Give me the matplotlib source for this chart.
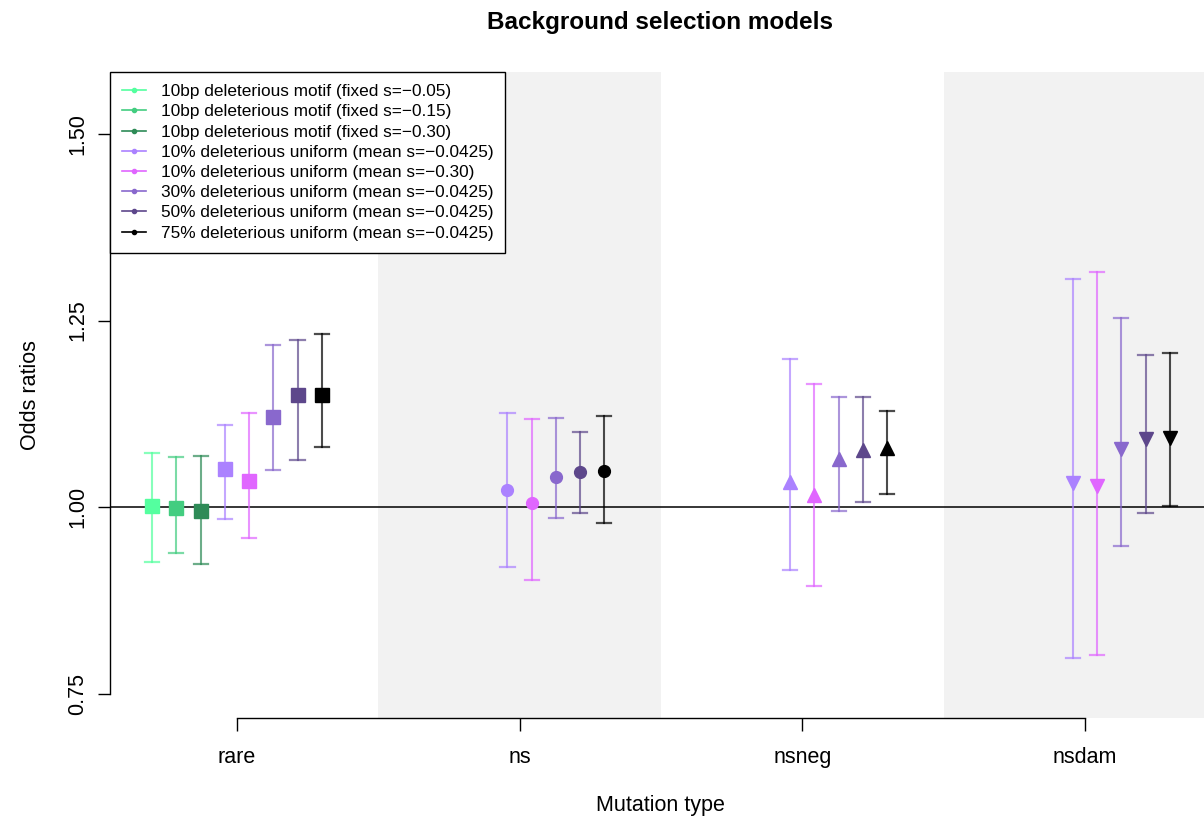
import matplotlib
matplotlib.use("Agg")
import matplotlib.pyplot as plt
from matplotlib.lines import Line2D
import numpy as np

plt.rcParams['font.family'] = ['Liberation Sans', 'DejaVu Sans']

categories = ["rare", "ns", "nsneg", "nsdam"]
series_labels = [
    "10bp deleterious motif (fixed s=\u22120.05)",
    "10bp deleterious motif (fixed s=\u22120.15)",
    "10bp deleterious motif (fixed s=\u22120.30)",
    "10% deleterious uniform (mean s=\u22120.0425)",
    "10% deleterious uniform (mean s=\u22120.30)",
    "30% deleterious uniform (mean s=\u22120.0425)",
    "50% deleterious uniform (mean s=\u22120.0425)",
    "75% deleterious uniform (mean s=\u22120.0425)",
]
series_colors = ["#54FF9F", "#43CD80", "#2E8B57", "#AB82FF",
                 "#E066FF", "#8968CD", "#5D478B", "#000000"]
cat_markers = ["s", "o", "^", "v"]

# odds ratio estimates per category (None = not present)
est_rare  = [1.002, 0.999, 0.995, 1.051, 1.035, 1.121, 1.150, 1.150]
low_rare  = [0.926, 0.938, 0.923, 0.984, 0.958, 1.050, 1.063, 1.081]
up_rare   = [1.072, 1.067, 1.068, 1.110, 1.126, 1.217, 1.224, 1.232]

est_ns    = [None, None, None, 1.023, 1.005, 1.040, 1.047, 1.048]
low_ns    = [None, None, None, 0.919, 0.902, 0.985, 0.992, 0.979]
up_ns     = [None, None, None, 1.126, 1.118, 1.119, 1.101, 1.122]

est_nsneg = [None, None, None, 1.034, 1.016, 1.065, 1.076, 1.079]
low_nsneg = [None, None, None, 0.915, 0.894, 0.994, 1.007, 1.018]
up_nsneg  = [None, None, None, 1.199, 1.165, 1.148, 1.147, 1.129]

est_nsdam = [None, None, None, 1.032, 1.028, 1.078, 1.091, 1.093]
low_nsdam = [None, None, None, 0.797, 0.802, 0.948, 0.992, 1.002]
up_nsdam  = [None, None, None, 1.305, 1.315, 1.254, 1.204, 1.206]

ests = [est_rare, est_ns, est_nsneg, est_nsdam]
lows = [low_rare, low_ns, low_nsneg, low_nsdam]
ups = [up_rare, up_ns, up_nsneg, up_nsdam]

yticks = [0.75, 1.00, 1.25, 1.50]

fig = plt.figure(figsize=(12.04, 8.18), dpi=100)
ax = fig.add_axes([110/1204, 100/818, 1 - 110/1204, 646/818])
ax.set_xlim(0.551, 4.421)
ax.set_ylim(0.7172, 1.5831)

# shaded bands for alternate categories
for i, c in enumerate(categories):
    if i % 2 == 1:
        ax.axvspan(i + 1 - 0.5, i + 1 + 0.5, color="#F2F2F2", zorder=0, lw=0)

ax.axhline(1.0, color="black", lw=1.1, zorder=1)

step = 0.6 / 7
cap = 0.025
n = len(series_labels)
for ci in range(len(categories)):
    for si in range(n):
        e = ests[ci][si]
        if e is None:
            continue
        x = ci + 1 + (si - (n - 1) / 2) * step
        col = series_colors[si]
        lo, hi = lows[ci][si], ups[ci][si]
        ax.plot([x, x], [lo, hi], color=col, lw=1.5, alpha=0.7, zorder=2)
        ax.plot([x - cap, x + cap], [lo, lo], color=col, lw=1.6, alpha=0.7, zorder=2)
        ax.plot([x - cap, x + cap], [hi, hi], color=col, lw=1.6, alpha=0.7, zorder=2)
        ms = {"s": 10, "o": 8.5, "^": 9.5, "v": 9.5}[cat_markers[ci]]
        ax.plot([x], [e], marker=cat_markers[ci], color=col, ms=ms,
                mec=col, ls="none", zorder=3)

for s in ["top", "right"]:
    ax.spines[s].set_visible(False)
ax.spines["left"].set_bounds(0.75, 1.50)
ax.spines["bottom"].set_bounds(1, 4)
ax.spines["left"].set_linewidth(1.0)
ax.spines["bottom"].set_linewidth(1.0)

ax.set_yticks(yticks)
ax.set_yticklabels([f"{v:.2f}" for v in yticks], rotation=90, va="center")
ax.set_xticks(range(1, len(categories) + 1))
ax.set_xticklabels(categories)
ax.tick_params(axis="both", length=9, width=1.0, labelsize=15.5, direction="out")
ax.tick_params(axis="y", pad=6.5)
ax.tick_params(axis="x", pad=12)

fig.text(30/1204, 1 - 395/818, "Odds ratios", rotation=90, ha="center",
         va="center", fontsize=15.5)
fig.text(660/1204, 1 - 806/818, "Mutation type", ha="center",
         va="center", fontsize=15.5)
fig.text(660/1204, 1 - 22/818, "Background selection models", ha="center",
         va="center", fontsize=17.5, fontweight="bold")

handles = [Line2D([0], [0], color=c, lw=1.2, marker="o", ms=3) for c in series_colors]
leg = ax.legend(handles, series_labels, loc="upper left", bbox_to_anchor=(0, 1),
                borderaxespad=0, fontsize=12.4, frameon=True, fancybox=False,
                edgecolor="black", framealpha=1, handlelength=1.4,
                labelspacing=0.3, borderpad=0.7, handletextpad=0.85)
leg.get_frame().set_linewidth(1.0)
leg.set_zorder(5)

fig.savefig("out.png", dpi=100)
